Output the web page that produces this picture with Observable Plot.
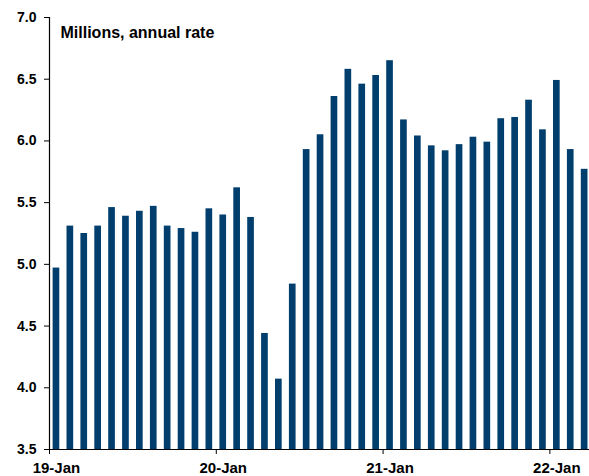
<!DOCTYPE html>
<html>
<head>
<meta charset="utf-8">
<script src="https://cdn.jsdelivr.net/npm/d3@7"></script>
<script src="https://cdn.jsdelivr.net/npm/@observablehq/plot@0.6"></script>
<style>
  html, body { margin: 0; padding: 0; background: #fff; }
  #chart svg { display: block; }
</style>
</head>
<body>
<div id="chart"></div>
<script>
// Monthly values, Jan 2019 – Mar 2022 (millions, annual rate)
const months = d3.range(39);
const values = [
  4.97, 5.31, 5.25, 5.31, 5.46, 5.39, 5.43, 5.47, 5.31, 5.29, 5.26, 5.45,
  5.40, 5.62, 5.38, 4.44, 4.07, 4.84, 5.93, 6.05, 6.36, 6.58, 6.46, 6.53,
  6.65, 6.17, 6.04, 5.96, 5.92, 5.97, 6.03, 5.99, 6.18, 6.19, 6.33, 6.09,
  6.49, 5.93, 5.77
];
const tickIndex = [0, 12, 24, 36];
const tickLabels = ["19-Jan", "20-Jan", "21-Jan", "22-Jan"];
const yTicks = [3.5, 4.0, 4.5, 5.0, 5.5, 6.0, 6.5, 7.0];
const title = "Millions, annual rate";

const data = months.map((i) => ({i, v: values[i]}));
const font = "'Liberation Sans', Arial, sans-serif";
const barColor = "#003e6d";

const chart = Plot.plot({
  width: 589,
  height: 476,
  marginLeft: 49,
  marginRight: 0,
  marginTop: 17,
  marginBottom: 27,
  style: {fontFamily: font, fontWeight: "bold", fontSize: "14px", color: "#000", background: "#fff", overflow: "visible"},
  x: {domain: [0, 38.85]},
  y: {domain: [3.5, 7.0]},
  marks: [
    Plot.rectY(data, {x1: (d) => d.i + 0.26, x2: (d) => d.i + 0.74, y1: 3.5, y2: "v", fill: barColor}),
    Plot.axisY({ticks: yTicks, tickFormat: ".1f", tickSize: 5, tickPadding: 8, fontSize: 14, fontWeight: "bold", label: null, stroke: "#000"}),
    Plot.axisX({ticks: tickIndex, tickFormat: () => "", tickSize: 5, label: null, stroke: "#000"}),
    Plot.axisX({ticks: tickIndex.map((t) => t + 0.5), tickFormat: (d, k) => tickLabels[k], tickSize: 0, tickPadding: 13, fontSize: 15, fontWeight: "bold", label: null}),
    Plot.ruleX([0], {y1: 3.5, y2: 7.0, stroke: "#000", strokeWidth: 1.2}),
    Plot.ruleY([3.5], {x1: 0, x2: 38.85, stroke: "#000", strokeWidth: 1.2}),
    Plot.text([title], {frameAnchor: "top-left", dx: 11, dy: 9, textAnchor: "start", lineAnchor: "top", fontSize: 16, fontWeight: "bold", fill: "#000"})
  ]
});
document.getElementById("chart").appendChild(chart);
</script>
</body>
</html>
